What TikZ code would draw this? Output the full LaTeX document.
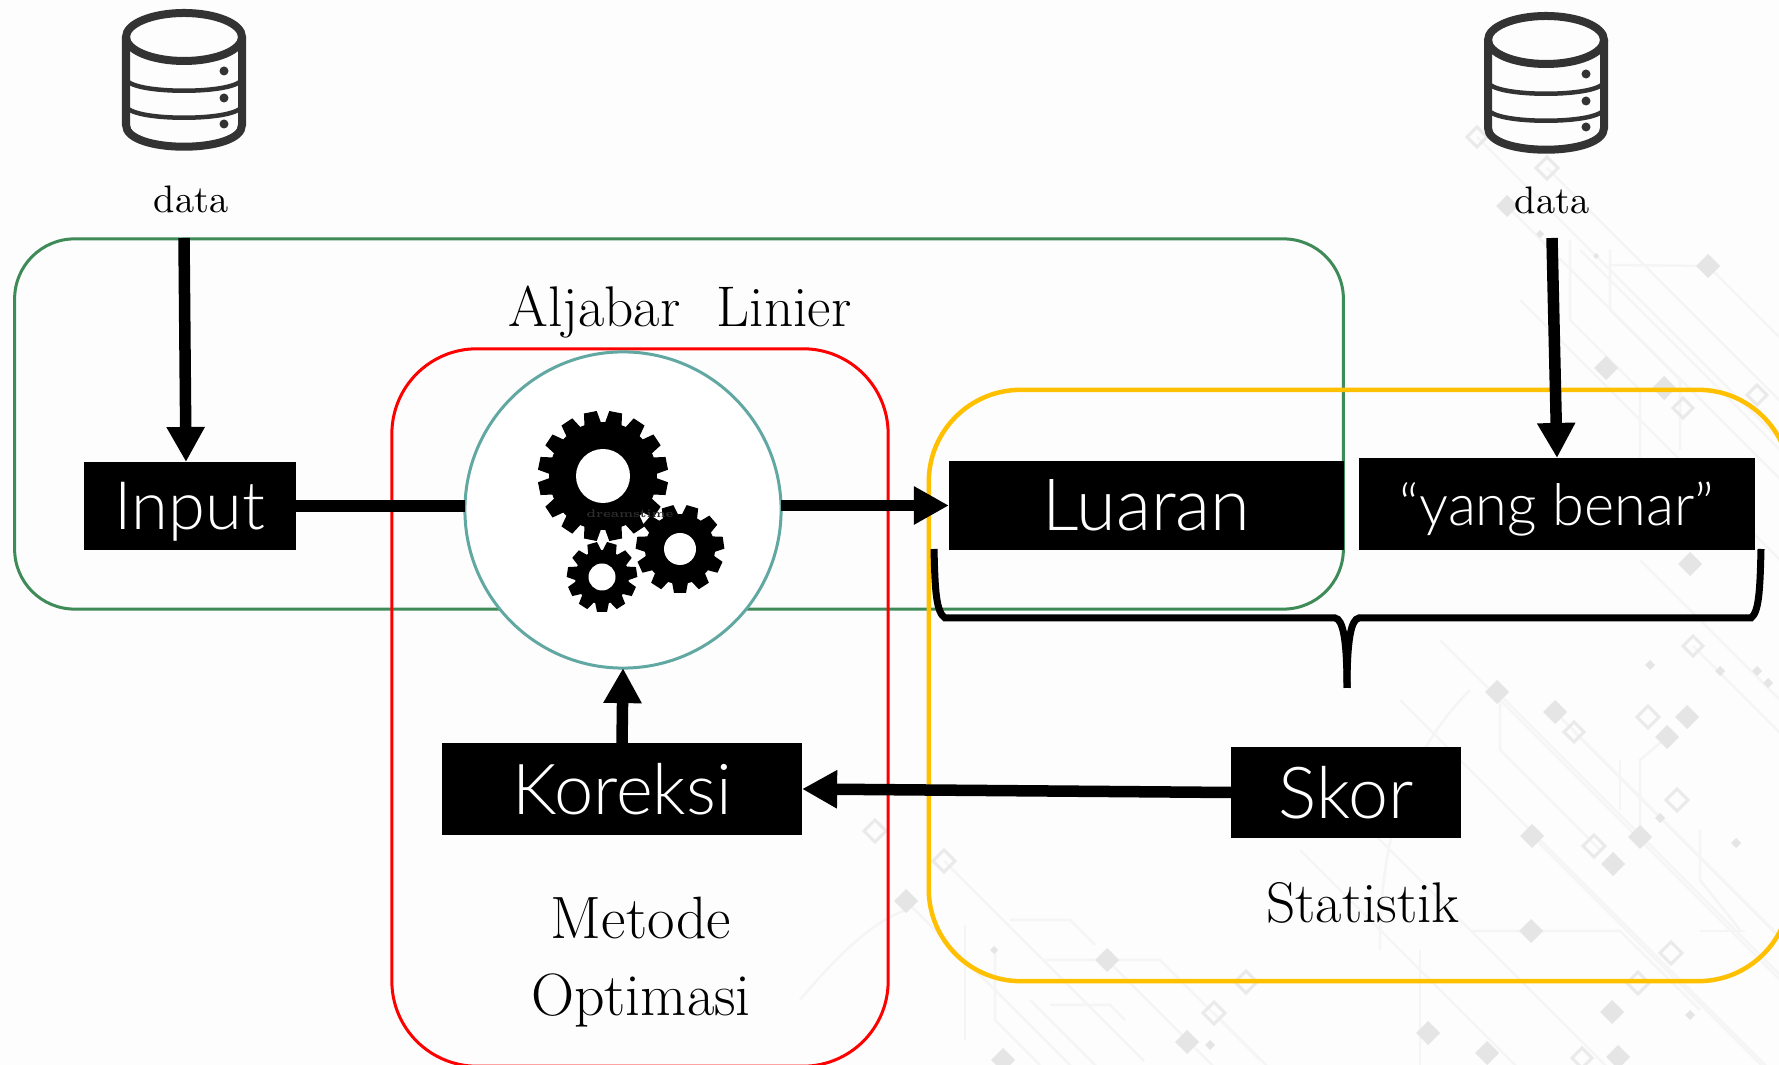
\documentclass[tikz,border=0pt]{standalone}
\usepackage{fontspec}
\usetikzlibrary{arrows.meta}
\newfontfamily\boxfont{Lato Light}

\definecolor{pagebg}{HTML}{FDFDFD}
\definecolor{aljabargreen}{HTML}{3F8B58}
\definecolor{statyellow}{HTML}{FFC000}
\definecolor{engineteal}{HTML}{62A8A2}
\definecolor{dbgray}{HTML}{333333}
\definecolor{tracegray}{HTML}{F5F5F5}
\definecolor{chipgray}{HTML}{E5E5E5}
\definecolor{hollowgray}{HTML}{EAEAEA}

\tikzset{
    blackbox/.style={fill=black, text=white, inner sep=0pt, outer sep=0pt, text depth=0pt, font=\boxfont\fontsize{19}{19}\selectfont},
    areabox/.style={rectangle, draw, rounded corners=0.6cm, inner sep=0pt, outer sep=0pt},
    flow/.style={line width=0.115cm, -{Triangle[width=0.36cm,length=0.35cm]}},
    flowplain/.style={line width=0.115cm},
    dbline/.style={draw=dbgray, line width=0.08cm},
    dbthin/.style={draw=dbgray, line width=0.045cm},
    serif/.style={inner sep=0pt, font=\fontsize{16.3}{16.3}\selectfont},
    seriflarge/.style={inner sep=0pt, font=\fontsize{17}{17}\selectfont},
    serifsmall/.style={inner sep=0pt, font=\fontsize{10.9}{10.9}\selectfont},
    trace/.style={draw=tracegray, line width=0.025cm},
    chip/.style={fill=chipgray},
    chiphollow/.style={draw=hollowgray, line width=0.03cm},
}

% #1 x, #2 y
\newcommand{\dbicon}[2]{
    \begin{scope}[shift={(#1,#2)}]
        \draw[dbline] (0,37) ellipse [x radius=58, y radius=24];
        \draw[dbline] (-58,37) -- (-58,125) .. controls (-58,154) and (58,154) .. (58,125) -- (58,37);
        \draw[dbthin] (-58,78) .. controls (-58,95) and (58,95) .. (58,78);
        \draw[dbthin] (-58,105) .. controls (-58,122) and (58,122) .. (58,105);
        \foreach \y in {71,98,124} \fill[dbgray] (40,\y) circle (4.5);
    \end{scope}
}

% #1 x, #2 y, #3 body, #4 tip, #5 hole, #6 teeth, #7 tooth half width, #8 phase
\newcommand{\gearicon}[8]{
    \begin{scope}[shift={(#1,#2)}]
        \fill[black] (0,0) circle (#3);
        \foreach \i in {1,...,#6}
            \fill[black, rotate=#8+\i*360/#6] (-#7-2,#3-2) -- (-#7,#4) -- (#7,#4) -- (#7+2,#3-2) -- cycle;
        \fill[white] (0,0) circle (#5);
    \end{scope}
}

\begin{document}
\begin{tikzpicture}[x=0.01cm,y=-0.01cm]
    \clip (0,0) rectangle (1779,1065);
    \fill[pagebg] (0,0) rectangle (1779,1065);

    % circuit background
    \foreach \x/\y/\l in {1477/137/310, 1547/168/240, 1507/206/280, 1580/250/200, 1520/300/260, 1497/692/290, 1555/712/230, 1440/640/350,
        1400/700/370, 1532/836/230, 1340/800/270, 1300/850/220, 906/901/170, 944/861/200, 1030/1000/70, 1107/960/110, 1214/1013/55, 1640/560/140, 1693/646/90, 1574/732/210}
        \draw[trace] (\x,\y) -- ++(\l,\l);
    \draw[trace] (1570,240) -- (1570,320) -- (1640,390) -- (1640,470) -- (1700,530);
    \draw[trace] (1610,250) -- (1610,310) -- (1680,380) -- (1680,450);
    \draw[trace] (1610,265) -- (1708,266) -- (1779,337);
    \draw[trace] (1500,695) -- (1500,750) -- (1600,850);
    \draw[trace] (1640,837) -- (1640,760) -- (1667,737);
    \draw[trace] (1620,760) -- (1620,810);
    \draw[trace] (1700,830) -- (1700,880) -- (1740,930);
    \draw[trace] (1472,931) -- (1620,931) -- (1700,1010);
    \draw[trace] (1700,931) -- (1745,931);
    \draw[trace] (1045,960) -- (1160,960) -- (1260,1060);
    \draw[trace] (965,925) .. controls (965,990) and (965,1000) .. (965,1040);
    \draw[trace] (995,950) -- (995,1020) -- (1040,1065);
    \draw[trace] (1010,920) -- (1070,920) -- (1095,945);
    \draw[trace] (1050,1005) -- (1110,1005) -- (1125,1020);
    \draw[trace] (800,1000) .. controls (850,940) and (880,920) .. (905,910);
    \draw[trace] (1380,950) .. controls (1380,850) and (1400,760) .. (1470,690);
    \draw[trace] (1420,950) -- (1420,1065);
    \foreach \x/\y/\s in {1507/206/11, 1708/266/12, 1606/368/12, 1664/388/12, 1690/564/12, 1497/692/12, 1555/712/12, 1687/717/12, 1667/737/12,
        1532/836/12, 1640/837/12, 1613/864/12, 1531/931/12, 1612/1012/12, 1428/1033/12, 1487/1053/12, 1618/1057/12, 906/901/12, 1107/960/12, 1187/1042/12, 1003/1060/12,
        1650/665/5, 1720/671/5, 1757/671/5, 1768/683/5, 1660/818/5, 1736/843/5, 1690/1015/5, 1210/1045/5, 994/950/4, 1540/234/4, 1596/256/3}
        \fill[chip] (\x-\s,\y) -- (\x,\y-\s) -- (\x+\s,\y) -- (\x,\y+\s) -- cycle;
    \foreach \x/\y/\s in {1477/137/10, 1547/168/11, 1757/395/10, 1683/408/10, 1693/646/10, 1574/732/10, 1648/717/11, 1677/800/11, 1594/846/11,
        1671/953/11, 1638/983/11, 1582/1058/10, 875/831/11, 944/861/11, 1214/1013/11, 1246/982/11}
        \draw[chiphollow] (\x-\s,\y) -- (\x,\y-\s) -- (\x+\s,\y) -- (\x,\y+\s) -- cycle;

    % areas
    \node[areabox, draw=aljabargreen, line width=0.03cm, minimum width=13.28cm, minimum height=3.70cm] (aljabararea) at (679,424) {};
    \node[areabox, draw=red, line width=0.03cm, rounded corners=0.85cm, minimum width=4.96cm, minimum height=7.17cm] (metodearea) at (640,707.5) {};
    \node[areabox, draw=statyellow, line width=0.045cm, rounded corners=0.92cm, minimum width=8.61cm, minimum height=5.91cm] (statarea) at (1359.5,685.5) {};

    % icons
    \dbicon{184}{0}
    \dbicon{1546}{3}

    \node[serifsmall] (datakiri) at (191,199) {data};
    \node[serifsmall] (datakanan) at (1552,200) {data};

    \node[serif] (aljabar) at (680,312) {Aljabar\, \,Linier};
    \node[seriflarge] (metode) at (641,918) {Metode};
    \node[seriflarge] (optimasi) at (641,1000) {Optimasi};
    \node[serif] (statistik) at (1363,903) {Statistik};

    % boxes
    \node[blackbox, minimum width=2.12cm, minimum height=0.88cm] (input) at (190,506) {Input};
    \node[blackbox, minimum width=3.95cm, minimum height=0.89cm, font=\boxfont\fontsize{20.5}{20.5}\selectfont] (luaran) at (1146.5,505.5) {Luaran};
    \node[blackbox, minimum width=3.96cm, minimum height=0.92cm, font=\boxfont\fontsize{16.4}{16.4}\selectfont] (benar) at (1557,504) {“yang benar”};
    \node[blackbox, minimum width=3.60cm, minimum height=0.92cm, font=\boxfont\fontsize{20}{20}\selectfont] (koreksi) at (622,789) {Koreksi};
    \node[blackbox, minimum width=2.30cm, minimum height=0.91cm, font=\boxfont\fontsize{20.4}{20.4}\selectfont] (skor) at (1346,792.5) {Skor};

    \node[circle, fill=white, draw=engineteal, line width=0.03cm, minimum size=3.16cm, inner sep=0pt, outer sep=0pt] (engine) at (623,510) {};

    % gears
    \gearicon{603}{476}{54}{65}{27}{16}{6.5}{11.25}
    \gearicon{680}{549}{35}{44}{16}{11}{6}{0}
    \gearicon{602}{577}{27}{35}{13.5}{11}{5}{0}
    \node[inner sep=0pt, text=black!82, font=\fontsize{3.2}{3.2}\selectfont\bfseries] (watermark) at (630,514) {dreamstime};

    % arrows
    \coordinate (datakiriout) at (184,238);
    \coordinate (datakananout) at (1552,238);
    \draw[flow] (datakiriout) -- ([xshift=-0.04cm]input.north);
    \draw[flow] (datakananout) -- (benar.north);
    \draw[flowplain] (input.east) -- (input.east -| engine.west);
    \draw[flow] (luaran.west -| engine.east) -- (luaran.west);
    \draw[flow] (koreksi.north) -- (engine.south);
    \draw[flow] (skor.west) -- (koreksi.east);

    % brace
    \draw[line width=0.07cm] (934,549) .. controls (935,590) and (936,612) .. (945,618) -- (1335,618)
        .. controls (1343,619) and (1347,640) .. (1347,688);
    \draw[line width=0.07cm] (1761,549) .. controls (1760,590) and (1759,612) .. (1751,618) -- (1359,618)
        .. controls (1351,619) and (1347,640) .. (1347,688);

\end{tikzpicture}
\end{document}
